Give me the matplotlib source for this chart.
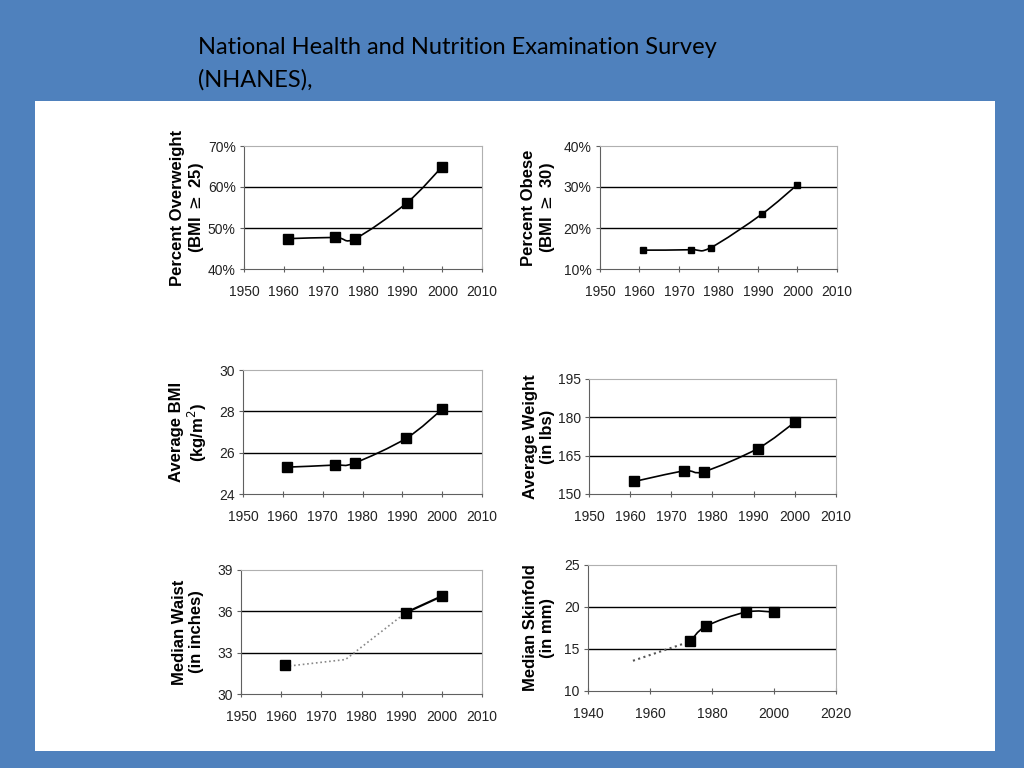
import matplotlib.pyplot as plt
from matplotlib.patches import Rectangle, PathPatch
from matplotlib.path import Path
from matplotlib.ticker import FuncFormatter
from matplotlib.transforms import blended_transform_factory

# data
yrs = [1961, 1973, 1978, 1991, 2000]
overweight = [47.4, 47.7, 47.4, 56.1, 65.0]
obese = [14.6, 14.7, 15.2, 23.4, 30.6]
bmi = [25.3, 25.4, 25.5, 26.7, 28.1]
weight = [154.9, 159.0, 158.8, 167.8, 178.1]

waist_yrs = [1961, 1991, 2000]
waist = [32.1, 35.9, 37.1]
waist_dot_x = [1961, 1976, 1991]
waist_dot_y = [32.0, 32.5, 35.9]

skin_yrs = [1973, 1978, 1991, 2000]
skin = [15.9, 17.7, 19.4, 19.4]
skin_dot_x = [1954.5, 1973]
skin_dot_y = [13.6, 15.9]

decades = [1950, 1960, 1970, 1980, 1990, 2000, 2010]
vicennia = [1940, 1960, 1980, 2000, 2020]


def smooth(ax, x, y, **kw):
    # excel-style smoothed line (catmull-rom as bezier)
    n = len(x)
    verts = [(x[0], y[0])]
    codes = [Path.MOVETO]
    for i in range(n - 1):
        x0, y0 = (x[i - 1], y[i - 1]) if i > 0 else (x[i], y[i])
        x3, y3 = (x[i + 2], y[i + 2]) if i + 2 < n else (x[i + 1], y[i + 1])
        c1 = (x[i] + (x[i + 1] - x0) / 6, y[i] + (y[i + 1] - y0) / 6)
        c2 = (x[i + 1] - (x3 - x[i]) / 6, y[i + 1] - (y3 - y[i]) / 6)
        verts += [c1, c2, (x[i + 1], y[i + 1])]
        codes += [Path.CURVE4] * 3
    ax.add_patch(PathPatch(Path(verts, codes), fill=False, **kw))


fig = plt.figure(figsize=(10.24, 7.68), dpi=100)
fig.patch.set_facecolor('#4f81bd')
fig.patches.append(Rectangle((35 / 1024, 1 - 751 / 768), 960 / 1024, 650 / 768,
                             transform=fig.transFigure, facecolor='white',
                             edgecolor='none', zorder=-5))
fig.text(198 / 1024, 1 - 64 / 768, 'National Health and Nutrition Examination Survey\n(NHANES),',
         fontsize=17, family=['Lato', 'DejaVu Sans'], color='black',
         va='center', linespacing=1.65)


def make_ax(l, r, t, b):
    ax = fig.add_axes([l / 1024, 1 - b / 768, (r - l) / 1024, (b - t) / 768])
    ax.set_zorder(2)
    ax.set_facecolor('white')
    for s in ['top', 'right']:
        ax.spines[s].set_color('#b0b0b0')
    for s in ['left', 'bottom']:
        ax.spines[s].set_color('#606060')
    ax.tick_params(labelsize=10, length=3, color='#606060', labelcolor='#222222', pad=3)
    ax.tick_params(axis='x', direction='inout', length=5, pad=9)
    return ax


def grid(ax, vals):
    for v in vals:
        ax.axhline(v, color='black', lw=1, zorder=1)


def ylab(ax, txt, xc):
    # label block centred at pixel column xc, vertically on the axes
    tr = blended_transform_factory(fig.transFigure, ax.transAxes)
    ax.text(xc / 1024, 0.5, txt, transform=tr,
            rotation=90, ha='center', va='center', fontsize=12, fontweight='bold',
            family='Liberation Sans', linespacing=1.12, multialignment='center')


pct = FuncFormatter(lambda v, p: '%d%%' % v)

# panel 1
ax1 = make_ax(244, 482, 146, 269)
ax1.set_xlim(1950, 2010)
ax1.set_xticks(decades)
ax1.set_ylim(40, 70)
ax1.set_yticks([40, 50, 60, 70])
ax1.yaxis.set_major_formatter(pct)
grid(ax1, [50, 60])
smooth(ax1, yrs, overweight, color='black', lw=1.2, zorder=2)
ax1.plot(yrs, overweight, 's', color='black', ms=6.5, zorder=3)
ylab(ax1, 'Percent Overweight\n(BMI $\\geq$ 25)', 188)

# panel 2
ax2 = make_ax(600, 837, 146, 269)
ax2.set_xlim(1950, 2010)
ax2.set_xticks(decades)
ax2.set_ylim(10, 40)
ax2.set_yticks([10, 20, 30, 40])
ax2.yaxis.set_major_formatter(pct)
grid(ax2, [20, 30])
smooth(ax2, yrs, obese, color='black', lw=1.2, zorder=2)
ax2.plot(yrs, obese, 's', color='black', ms=5, zorder=3)
ylab(ax2, 'Percent Obese\n(BMI $\\geq$ 30)', 539)

# panel 3
ax3 = make_ax(243, 482, 370, 494)
ax3.set_xlim(1950, 2010)
ax3.set_xticks(decades)
ax3.set_ylim(24, 30)
ax3.set_yticks([24, 26, 28, 30])
grid(ax3, [26, 28])
smooth(ax3, yrs, bmi, color='black', lw=1.2, zorder=2)
ax3.plot(yrs, bmi, 's', color='black', ms=6.5, zorder=3)
ylab(ax3, 'Average BMI\n(kg/m$^2$)', 189)

# panel 4
ax4 = make_ax(589, 836, 379, 494)
ax4.set_xlim(1950, 2010)
ax4.set_xticks(decades)
ax4.set_ylim(150, 195)
ax4.set_yticks([150, 165, 180, 195])
grid(ax4, [165, 180])
smooth(ax4, yrs, weight, color='black', lw=1.2, zorder=2)
ax4.plot(yrs, weight, 's', color='black', ms=6.5, zorder=3)
ylab(ax4, 'Average Weight\n(in lbs)', 539)

# panel 5
ax5 = make_ax(241, 482, 570, 694)
ax5.set_xlim(1950, 2010)
ax5.set_xticks(decades)
ax5.set_ylim(30, 39)
ax5.set_yticks([30, 33, 36, 39])
grid(ax5, [33, 36])
ax5.plot(waist_dot_x, waist_dot_y, ':', color='#888888', lw=1.2, zorder=2)
ax5.plot(waist_yrs[1:], waist[1:], '-', color='black', lw=1.6, zorder=2)
ax5.plot(waist_yrs, waist, 's', color='black', ms=6.5, zorder=3)
ylab(ax5, 'Median Waist\n(in inches)', 188)

# panel 6
ax6 = make_ax(588, 836, 565, 691)
ax6.set_xlim(1940, 2020)
ax6.set_xticks(vicennia)
ax6.set_ylim(10, 25)
ax6.set_yticks([10, 15, 20, 25])
grid(ax6, [15, 20])
ax6.plot(skin_dot_x, skin_dot_y, ':', color='#555555', lw=1.5, zorder=2)
smooth(ax6, skin_yrs, skin, color='black', lw=1.2, zorder=2)
ax6.plot(skin_yrs, skin, 's', color='black', ms=7, zorder=3)
ylab(ax6, 'Median Skinfold\n(in mm)', 539)

for ax in [ax1, ax2, ax3, ax4, ax5, ax6]:
    for lab in ax.get_xticklabels() + ax.get_yticklabels():
        lab.set_family('Liberation Sans')

fig.savefig('out.png', dpi=100, facecolor=fig.get_facecolor())
